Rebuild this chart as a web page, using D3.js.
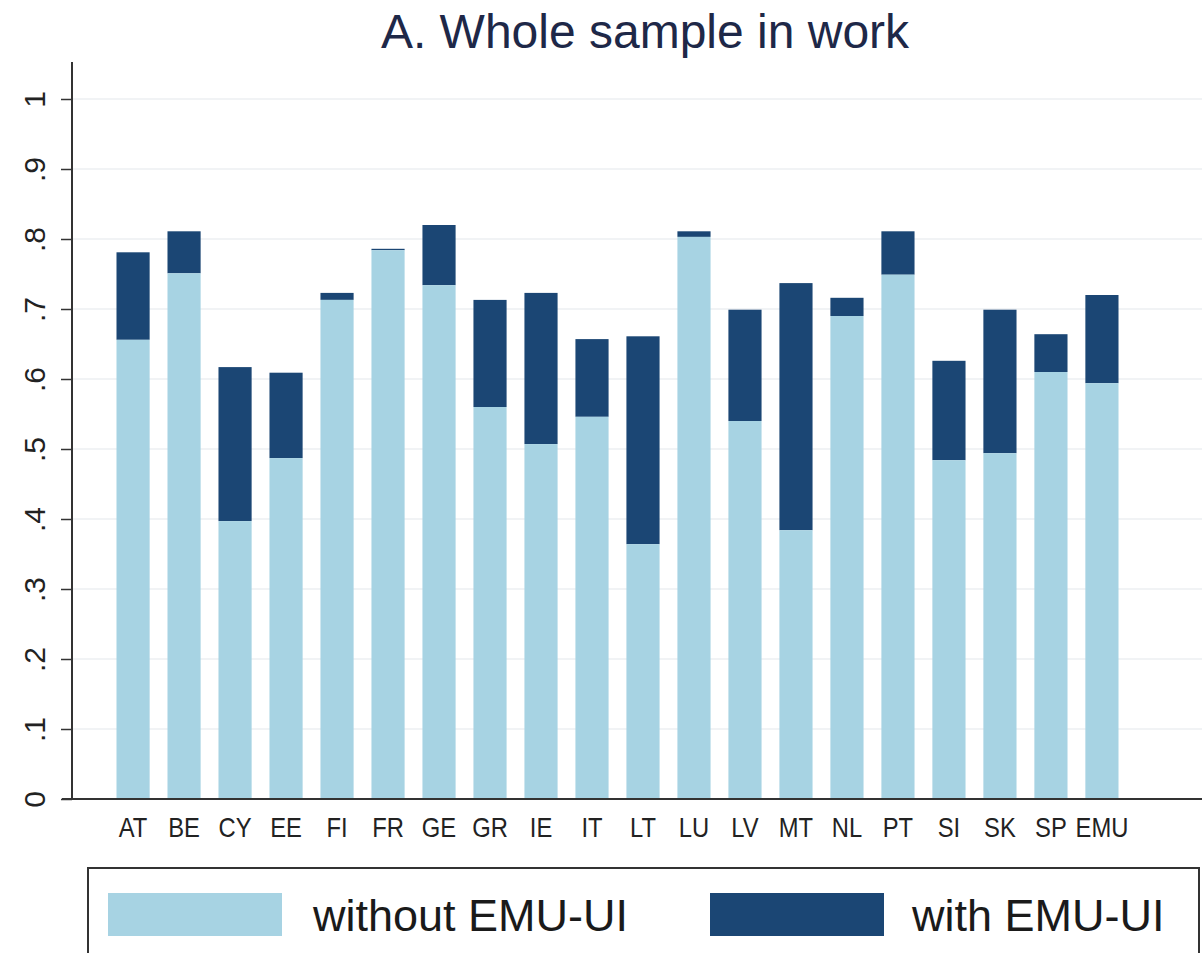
<!DOCTYPE html>
<html><head><meta charset="utf-8">
<script src="https://cdn.jsdelivr.net/npm/d3@7"></script>
<style>html,body{margin:0;padding:0;background:#fff;}svg{display:block;}</style>
</head><body>
<script>
const categories = ["AT","BE","CY","EE","FI","FR","GE","GR","IE","IT","LT","LU","LV","MT","NL","PT","SI","SK","SP","EMU"];
const withoutUI = [0.656,0.751,0.397,0.487,0.713,0.784,0.734,0.560,0.507,0.546,0.364,0.803,0.540,0.384,0.690,0.749,0.484,0.494,0.610,0.594];
const withUI    = [0.781,0.811,0.617,0.609,0.723,0.786,0.820,0.713,0.723,0.657,0.661,0.811,0.699,0.737,0.716,0.811,0.626,0.699,0.664,0.720];
const yTicks = [0,0.1,0.2,0.3,0.4,0.5,0.6,0.7,0.8,0.9,1];
const yTickLabels = ["0",".1",".2",".3",".4",".5",".6",".7",".8",".9","1"];
const legendLabels = ["without EMU-UI","with EMU-UI"];
const title = "A. Whole sample in work";

const W = 1202, H = 953;
const lightC = "#a7d3e3", darkC = "#1b4674";
const plotL = 72, plotR = 1202, plotT = 62, plotB = 799;

const svg = d3.select("body").append("svg").attr("width", W).attr("height", H)
  .style("font-family", "'Liberation Sans', Arial, sans-serif");

const y = d3.scaleLinear().domain([0,1]).range([799, 99]);
const x = d3.scaleBand().domain(categories).range([91, 1144]).paddingInner(0.35).paddingOuter(0.5);

// gridlines
svg.append("g").selectAll("line").data(yTicks.slice(1)).join("line")
  .attr("x1", plotL).attr("x2", plotR)
  .attr("y1", d => y(d)).attr("y2", d => y(d))
  .attr("stroke", "#eceff2").attr("stroke-width", 1.5);

// bars
const data = categories.map((c,i) => ({c, a: withoutUI[i], b: withUI[i]}));
svg.append("g").selectAll("rect").data(data).join("rect")
  .attr("x", d => x(d.c)).attr("width", x.bandwidth())
  .attr("y", d => y(d.b)).attr("height", d => y(d.a) - y(d.b))
  .attr("fill", darkC);
svg.append("g").selectAll("rect").data(data).join("rect")
  .attr("x", d => x(d.c)).attr("width", x.bandwidth())
  .attr("y", d => y(d.a)).attr("height", d => y(0) - y(d.a))
  .attr("fill", lightC);

// y axis
const yAxis = d3.axisLeft(y).tickValues(yTicks).tickFormat((d,i) => yTickLabels[i]).tickSize(11).tickPadding(0);
const gy = svg.append("g").attr("transform", `translate(${plotL},0)`).call(yAxis);
gy.select(".domain").remove();
gy.selectAll(".tick line").attr("stroke", "#333").attr("stroke-width", 1.5);
gy.selectAll(".tick text")
  .attr("transform", "rotate(-90)")
  .attr("x", 0).attr("y", -27).attr("dy", 0)
  .attr("text-anchor", "middle")
  .style("font-size", "30px").attr("fill", "#222");
svg.append("line").attr("x1", plotL).attr("x2", plotL).attr("y1", plotT).attr("y2", plotB + 1)
  .attr("stroke", "#333").attr("stroke-width", 2);

// x axis
const xAxis = d3.axisBottom(x).tickSize(0).tickPadding(19);
const gx = svg.append("g").attr("transform", `translate(0,${plotB})`).call(xAxis);
gx.select(".domain").remove();
gx.selectAll(".tick text").style("font-size", "27px").attr("fill", "#222").attr("dy", "0.71em")
  .attr("transform", "scale(0.88,1)");
svg.append("line").attr("x1", 62).attr("x2", plotR).attr("y1", plotB).attr("y2", plotB)
  .attr("stroke", "#333").attr("stroke-width", 2);

// title
svg.append("text").attr("x", 645).attr("y", 48).attr("text-anchor", "middle")
  .style("font-size", "48px").attr("fill", "#1e2848").text(title);

// legend
svg.append("rect").attr("x", 88).attr("y", 868).attr("width", 1111).attr("height", 100)
  .attr("fill", "none").attr("stroke", "#333").attr("stroke-width", 2);
const legX = [108, 710], legTX = [313, 912];
const leg = svg.append("g").selectAll("g").data(legendLabels).join("g");
leg.append("rect").attr("x", (d,i) => legX[i]).attr("y", 893).attr("width", 174).attr("height", 43)
  .attr("fill", (d,i) => i === 0 ? lightC : darkC);
leg.append("text").attr("x", (d,i) => legTX[i]).attr("y", 931)
  .style("font-size", "45px").attr("fill", "#1a1a1a").text(d => d);
</script>
</body></html>
